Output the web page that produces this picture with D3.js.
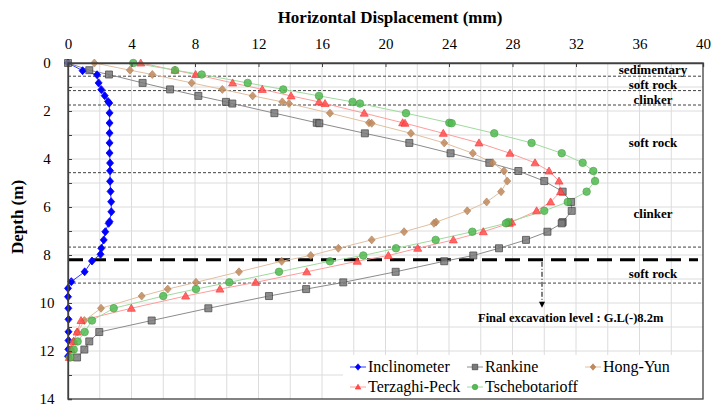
<!DOCTYPE html>
<html><head><meta charset="utf-8">
<script src="https://cdn.jsdelivr.net/npm/d3@7"></script>
<style>body{margin:0;background:#fff;}</style></head>
<body><svg id="c" width="711" height="407"></svg>
<script>
// ---- data ----
const xTicks = [0,4,8,12,16,20,24,28,32,36,40];
const yTicks = [0,2,4,6,8,10,12,14];
const incDepth = [0,0.32,0.49,0.83,1.11,1.36,1.6,1.67,2.08,2.5,2.92,3.33,3.75,4.17,4.49,4.93,5.35,5.78,6.2,6.61,6.68,7.03,7.37,7.72,7.97,8.25,8.7,9.11,9.39,9.74,10.22,10.68,11.2,11.56,11.93,12.22];
const inclinometer = [0,0.92,1.83,1.93,2.1,2.31,2.52,2.6,2.62,2.62,2.62,2.62,2.62,2.65,2.65,2.65,2.68,2.72,2.73,2.62,2.56,2.35,2.25,2.1,2.05,1.51,1.05,0.21,0,0,0.02,0.03,0.03,0.03,0.02,0];
const modelDepth = [0,0.3,0.48,0.83,1.1,1.37,1.62,1.69,2.09,2.49,2.51,2.93,3.33,3.76,4.16,4.5,4.92,5.36,5.79,6.16,6.63,6.68,7.03,7.37,7.72,8.02,8.26,8.7,9.14,9.42,9.71,10.22,10.73,11.21,11.6,11.94,12.27];
const rankine = [0,1.34,2.58,4.7,6.43,8.21,9.95,10.35,13.0,15.67,15.83,18.7,21.5,24.1,26.54,28.37,30.0,31.16,31.69,31.73,31.16,31.1,30.2,28.85,27.15,25.53,23.7,20.64,17.34,15.0,12.66,8.84,5.27,1.97,1.34,1.03,0.57];
const hongYun = [1.66,3.9,5.31,7.79,9.72,11.63,13.5,13.92,16.5,18.96,19.13,21.6,23.7,25.5,26.75,27.46,27.67,27.28,26.37,25.15,23.18,23.05,21.17,19.13,17.03,15.29,13.46,10.77,8.06,6.28,4.64,2.08,1.03,0.6,0.35,0.18,0.05];
const terzaghiPeck = [4.58,6.74,8.04,10.37,12.24,14.05,15.81,16.19,18.66,21.08,21.23,23.64,25.89,27.84,29.42,30.3,30.93,31.03,30.4,29.52,27.95,27.8,26.16,24.27,22.03,20.18,18.22,15.04,11.82,9.57,7.41,3.99,0.82,0.57,0.36,0.21,0.08];
const tschebotarioff = [4.11,6.74,8.42,11.32,13.56,15.81,17.93,18.39,21.29,24.02,24.17,26.85,29.2,31.1,32.42,33.09,33.2,32.67,31.48,30.0,27.74,27.59,25.47,23.16,20.66,18.6,16.5,13.29,10.16,8.06,6.0,2.88,1.51,1.05,0.61,0.36,0.15];
const layerBounds = [0.55,1.15,1.75,4.57,7.67,9.17];
const layerNames = ["sedimentary","soft rock","clinker","soft rock","clinker","soft rock"];
const layerLabelDepth = [0.25,0.88,1.5,3.33,6.29,8.75];
const excavationDepth = 8.2;
const excavationText = "Final excavation level : G.L(-)8.2m";

// ---- layout ----
const FONT = "Liberation Serif";
const svg = d3.select("#c");
const L = 68, R = 703, T = 63, B = 399;
const x = d3.scaleLinear().domain([0,40]).range([L,R]);
const y = d3.scaleLinear().domain([0,14]).range([T,B]);

// grid
const g = svg.append("g");
g.selectAll(".vg").data(d3.range(2,40,2)).enter().append("line")
  .attr("x1",d=>x(d)).attr("x2",d=>x(d)).attr("y1",T).attr("y2",B)
  .attr("stroke","#dcdcdc").attr("stroke-width",1);
g.selectAll(".hg").data(d3.range(1,14,1)).enter().append("line")
  .attr("x1",L).attr("x2",R).attr("y1",d=>y(d)).attr("y2",d=>y(d))
  .attr("stroke","#dcdcdc").attr("stroke-width",1);

// layer boundaries
g.selectAll(".lb").data(layerBounds).enter().append("line")
  .attr("x1",L).attr("x2",R).attr("y1",d=>y(d)).attr("y2",d=>y(d))
  .attr("stroke","#404040").attr("stroke-width",1).attr("stroke-dasharray","3,2");

// excavation line
g.append("line").attr("x1",L).attr("x2",R-5).attr("y1",y(excavationDepth)).attr("y2",y(excavationDepth))
  .attr("stroke","#000").attr("stroke-width",3).attr("stroke-dasharray","15,8");

// legend background
svg.append("rect").attr("x",343).attr("y",355).attr("width",R-343).attr("height",B-355).attr("fill","#fff");

// series
const series = [
  {name:"Inclinometer", depth:incDepth, vals:inclinometer, line:"#2a3cff", fill:"#0000ff", stroke:"#0000ff", shape:"diamond", size:7},
  {name:"Rankine", depth:modelDepth, vals:rankine, line:"#8c8c8c", fill:"#7a7a7a", stroke:"#333333", shape:"square", size:7},
  {name:"Hong-Yun", depth:modelDepth, vals:hongYun, line:"#e2bfa0", fill:"#c08a5c", stroke:"#b07a50", shape:"diamond", size:7},
  {name:"Terzaghi-Peck", depth:modelDepth, vals:terzaghiPeck, line:"#ff9c9c", fill:"#ff4f4f", stroke:"#ff2a2a", shape:"triangle", size:8},
  {name:"Tschebotarioff", depth:modelDepth, vals:tschebotarioff, line:"#9edb9e", fill:"#52bb52", stroke:"#3e9e3e", shape:"circle", size:7.5}
];
function markerPath(shape,s){
  const h=s/2;
  if(shape==="diamond") return `M0,${-h-0.5}L${h},0L0,${h+0.5}L${-h},0Z`;
  if(shape==="square") return `M${-h},${-h}H${h}V${h}H${-h}Z`;
  if(shape==="triangle") return `M0,${-h}L${h},${h*0.75}L${-h},${h*0.75}Z`;
  return d3.symbol(d3.symbolCircle, Math.PI*h*h)();
}
const lineGen = d3.line().x(d=>x(d[0])).y(d=>y(d[1]));
series.forEach(s=>{
  const pts = s.vals.map((v,i)=>[v,s.depth[i]]);
  svg.append("path").attr("d",lineGen(pts)).attr("fill","none").attr("stroke",s.line).attr("stroke-width",1);
});
series.forEach(s=>{
  const pts = s.vals.map((v,i)=>[v,s.depth[i]]);
  svg.append("g").selectAll("path").data(pts).enter().append("path")
    .attr("transform",d=>`translate(${x(d[0])},${y(d[1])})`)
    .attr("d",markerPath(s.shape,s.size))
    .attr("fill",s.fill).attr("stroke",s.stroke).attr("stroke-width",0.8)
    .attr("opacity", s.name==="Inclinometer"?1:0.85);
});

// frame
svg.append("rect").attr("x",L).attr("y",T).attr("width",R-L).attr("height",B-T)
  .attr("fill","none").attr("stroke","#404040").attr("stroke-width",1.3);

// axes
const xAxis = d3.axisTop(x).tickValues(xTicks).tickSize(-4).tickPadding(14).tickFormat(d3.format("d"));
const xa = svg.append("g").attr("transform",`translate(0,${T})`).call(xAxis);
xa.attr("font-family",FONT).attr("font-size",15);
xa.select(".domain").attr("stroke","#404040").attr("stroke-width",1.3);
xa.selectAll(".tick line").attr("stroke","#404040");
xa.selectAll("text").attr("font-family",FONT).attr("font-size",15).attr("fill","#000");

const yAxis = d3.axisLeft(y).tickValues(d3.range(0,15,1)).tickSize(-4).tickPadding(14)
  .tickFormat(d=> d%2===0 ? d : "");
const ya = svg.append("g").attr("transform",`translate(${L},0)`).call(yAxis);
ya.attr("font-family",FONT).attr("font-size",15);
ya.select(".domain").attr("stroke","#404040").attr("stroke-width",1.3);
ya.selectAll(".tick line").attr("stroke","#404040");
ya.selectAll("text").attr("font-family",FONT).attr("font-size",15).attr("fill","#000").attr("text-anchor","middle").attr("x",-21);

// titles
svg.append("text").attr("x",390).attr("y",23).attr("text-anchor","middle").attr("font-family",FONT)
  .attr("font-size",17).attr("font-weight","bold").text("Horizontal Displacement (mm)");
svg.append("text").attr("transform","translate(23,217) rotate(-90)").attr("text-anchor","middle").attr("font-family",FONT)
  .attr("font-size",17).attr("font-weight","bold").text("Depth (m)");

// layer labels
svg.append("g").selectAll("text").data(layerNames).enter().append("text")
  .attr("x",653).attr("y",(d,i)=>y(layerLabelDepth[i])+4.5).attr("text-anchor","middle").attr("font-family",FONT)
  .attr("font-size",13).attr("font-weight","bold").text(d=>d);

// excavation arrow & text
const ax = 542;
svg.append("line").attr("x1",ax).attr("x2",ax).attr("y1",y(excavationDepth)+2).attr("y2",y(excavationDepth)+45)
  .attr("stroke","#000").attr("stroke-width",1).attr("stroke-dasharray","5,2,1,2");
svg.append("path").attr("d",`M${ax-3},${y(excavationDepth)+42}L${ax+3},${y(excavationDepth)+42}L${ax},${y(excavationDepth)+48}Z`).attr("fill","#000");
svg.append("text").attr("x",478).attr("y",y(excavationDepth)+62).attr("font-family",FONT).attr("font-size",12.5).attr("font-weight","bold").text(excavationText);

// legend
const legPos = [[350,367],[467,367],[585,367],[350,387],[467,387]];
series.forEach((s,i)=>{
  const [lx,ly] = legPos[i];
  const lg = svg.append("g");
  lg.append("line").attr("x1",lx).attr("x2",lx+16).attr("y1",ly).attr("y2",ly).attr("stroke",s.line).attr("stroke-width",1);
  lg.append("path").attr("transform",`translate(${lx+8},${ly})`).attr("d",markerPath(s.shape,5.5))
    .attr("fill",s.fill).attr("stroke",s.stroke).attr("stroke-width",0.6);
  lg.append("text").attr("x",lx+18).attr("y",ly+5).attr("font-family",FONT).attr("font-size",16).text(s.name);
});
</script></body></html>
